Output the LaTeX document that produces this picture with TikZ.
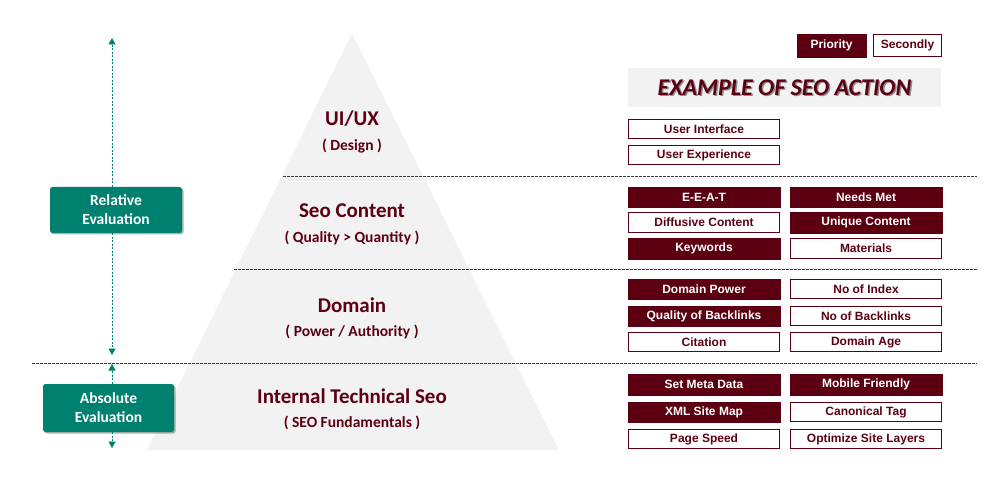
\documentclass[tikz,border=0pt]{standalone}
\usepackage{fontspec}
\setmainfont{Carlito}
\newfontfamily\arialfont{Liberation Sans}
\usetikzlibrary{arrows.meta,shadows}

\definecolor{wine}{HTML}{5C0011}
\definecolor{evalgreen}{HTML}{00806F}
\definecolor{pyrgray}{HTML}{F2F2F2}
\definecolor{sepgray}{HTML}{3A3A3A}

\tikzset{
  prio/.style={fill=wine, draw=wine, text=white, inner sep=0pt,
    font=\arialfont\bfseries\fontsize{12}{12}\selectfont,
    minimum width=152, minimum height=20.5},
  second/.style={prio, fill=white, text=wine, line width=1.2pt,
    minimum width=150.8, minimum height=19.3},
  evalbox/.style={fill=evalgreen, text=white, rounded corners=2.5pt, align=center,
    font=\bfseries\fontsize{15.5}{19}\selectfont, inner sep=0pt,
    drop shadow={shadow xshift=1.5pt, shadow yshift=-1.5pt, opacity=0.3, fill=black}},
  evarrow/.style={draw=evalgreen, line width=0.8pt, dash pattern=on 2pt off 1.5pt,
    -{Triangle[length=6.5pt,width=7pt]}},
  sepline/.style={draw=sepgray, line width=0.8pt, dash pattern=on 2.5pt off 1.5pt},
  lvltitle/.style={text=wine, font=\bfseries\fontsize{21}{21}\selectfont},
  lvlsub/.style={text=wine, font=\bfseries\fontsize{15.5}{15.5}\selectfont},
}

\begin{document}
\begin{tikzpicture}[x=1pt, y=-1pt]
\useasboundingbox (0,0) rectangle (995,478);

% pyramid
\fill[pyrgray] (352,33) -- (559,450) -- (147,450) -- cycle;

% level separators
\draw[sepline] (283,176) -- (977,176);
\draw[sepline] (234,269) -- (977,269);
\draw[sepline] (32,363) -- (977,363);

% pyramid levels
\node[lvltitle] (uiux) at (352,119) {UI/UX};
\node[lvlsub] (uiuxs) at (352,146) {( Design )};
\node[lvltitle] (cont) at (352,211) {Seo Content};
\node[lvlsub] (conts) at (352,238) {( Quality > Quantity )};
\node[lvltitle] (dom) at (352,305) {Domain};
\node[lvlsub] (doms) at (352,332) {( Power / Authority )};
\node[lvltitle] (tech) at (352,396) {Internal Technical Seo};
\node[lvlsub] (techs) at (352,423) {( SEO Fundamentals )};

% evaluation boxes and ranges
\node[evalbox, minimum width=132, minimum height=46] (rel) at (116,210) {Relative\\Evaluation};
\node[evalbox, minimum width=131, minimum height=48] (abs) at (108.5,408) {Absolute\\Evaluation};
\coordinate (reltop) at (112,38);
\coordinate (relbot) at (112,355);
\coordinate (abstop) at (112,364);
\coordinate (absbot) at (112,448);
\draw[evarrow] (rel.north -| reltop) -- (reltop);
\draw[evarrow] (rel.south -| relbot) -- (relbot);
\draw[evarrow] (abs.north -| abstop) -- (abstop);
\draw[evarrow] (abs.south -| absbot) -- (absbot);

% legend
\node[prio, minimum width=69, minimum height=23] (lgp) at (831.5,45.5) {Priority};
\node[second, minimum width=67.8, minimum height=21.8] (lgs) at (907.5,45.5) {Secondly};

% heading
\node[fill=pyrgray, minimum width=313, minimum height=39, inner sep=0pt] (head) at (784.5,87.5) {};
\node[text=black!45, font=\bfseries\itshape\fontsize{24}{24}\selectfont] (headsh) at (786,89) {EXAMPLE OF SEO ACTION};
\node[text=wine, font=\bfseries\itshape\fontsize{24}{24}\selectfont] (headtx) at (784.5,87.5) {EXAMPLE OF SEO ACTION};

% UI/UX actions
\node[second] (a1) at (704,129) {User Interface};
\node[second] (a2) at (704,155) {User Experience};

% content actions
\node[prio] (b1) at (704,197) {E-E-A-T};
\node[prio] (b2) at (866,197) {Needs Met};
\node[second] (b3) at (704,222.5) {Diffusive Content};
\node[prio] (b4) at (866,222.5) {Unique Content};
\node[prio] (b5) at (704,248.5) {Keywords};
\node[second] (b6) at (866,248.5) {Materials};

% domain actions
\node[prio] (c1) at (704,289) {Domain Power};
\node[second] (c2) at (866,289) {No of Index};
\node[prio] (c3) at (704,316) {Quality of Backlinks};
\node[second] (c4) at (866,316) {No of Backlinks};
\node[second] (c5) at (704,342) {Citation};
\node[second] (c6) at (866,342) {Domain Age};

% technical actions
\node[prio] (d1) at (704,384.5) {Set Meta Data};
\node[prio] (d2) at (866,384.5) {Mobile Friendly};
\node[prio] (d3) at (704,412) {XML Site Map};
\node[second] (d4) at (866,412) {Canonical Tag};
\node[second] (d5) at (704,439) {Page Speed};
\node[second] (d6) at (866,439) {Optimize Site Layers};
\end{tikzpicture}
\end{document}
